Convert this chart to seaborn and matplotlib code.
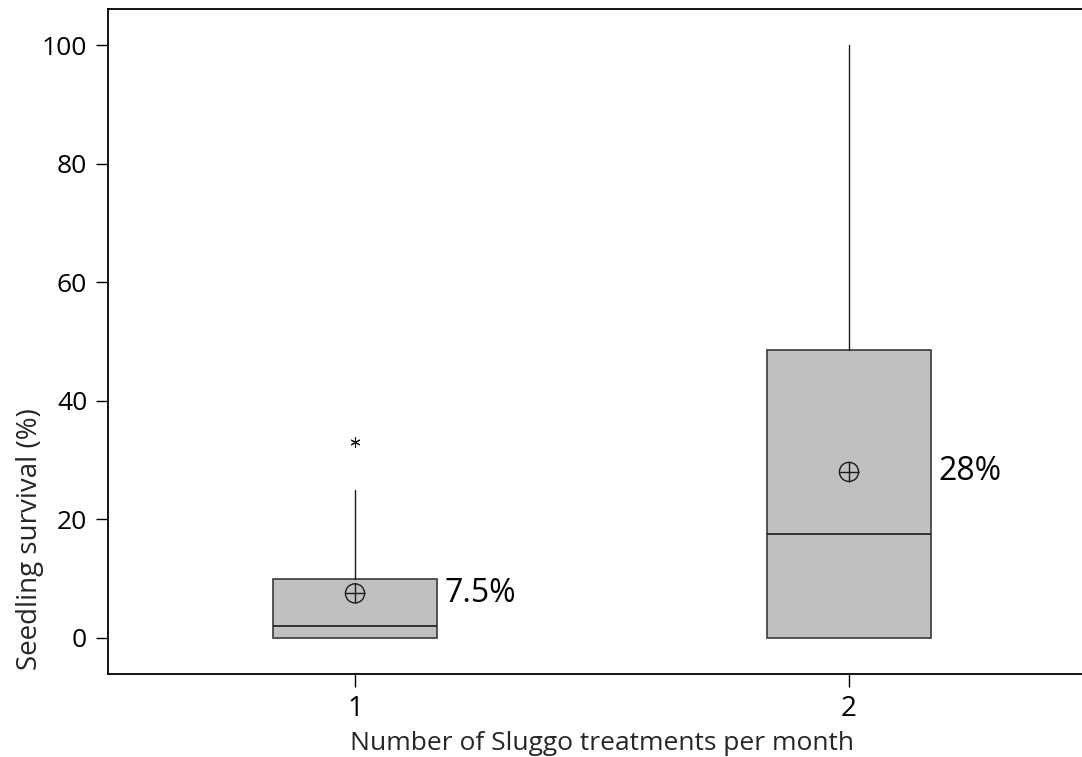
import matplotlib
matplotlib.use("Agg")
import matplotlib.pyplot as plt
import seaborn as sns
import pandas as pd

# Box statistics for seedling survival (%) by treatment frequency
groups = ["1", "2"]
positions = [1, 2]
q1 = [0.0, 0.0]
medians = [2.0, 17.5]
q3 = [10.0, 48.5]
whisker_low = [0.0, 0.0]
whisker_high = [25.0, 100.0]
means = [7.5, 28.0]
mean_labels = ["7.5%", "28%"]
outlier_group = [1]
outlier_values = [33.0]

sns.set_theme(style="ticks")
plt.rcParams["font.family"] = ["Open Sans", "DejaVu Sans"]

fig = plt.figure(figsize=(10.82, 7.57), dpi=100)
ax = fig.add_axes([108 / 1082, 83 / 757, (1096 - 108) / 1082, (674 - 9) / 757])

stats = []
for i, g in enumerate(groups):
    stats.append(dict(label=g, q1=q1[i], med=medians[i], q3=q3[i],
                      whislo=whisker_low[i], whishi=whisker_high[i],
                      mean=means[i], fliers=[]))

ax.bxp(stats, positions=positions, widths=0.333, patch_artist=True,
       showcaps=False, showfliers=False, showmeans=False,
       boxprops=dict(facecolor="#c0c0c0", edgecolor="#3a3a3a", linewidth=1.2),
       medianprops=dict(color="#1a1a1a", linewidth=1.2),
       whiskerprops=dict(color="#1a1a1a", linewidth=1.0))

mean_df = pd.DataFrame({"pos": positions, "mean": means})
sns.scatterplot(data=mean_df, x="pos", y="mean", marker="o", s=190,
                facecolor="none", edgecolor="#1a1a1a", linewidth=1.0,
                ax=ax, zorder=5)
sns.scatterplot(data=mean_df, x="pos", y="mean", marker="+", s=190,
                color="#1a1a1a", linewidth=1.0, ax=ax, zorder=5)

out_df = pd.DataFrame({"pos": outlier_group, "val": outlier_values})
sns.scatterplot(data=out_df, x="pos", y="val", marker=(6, 2, 0), s=45,
                color="#1a1a1a", linewidth=0.8, ax=ax, zorder=5)

for p, m, lab in zip(positions, means, mean_labels):
    ax.annotate(lab, xy=(p + 0.1665, m), xytext=(5, 0),
                textcoords="offset points", ha="left", va="center",
                fontsize=23, color="black")

ax.set_xlim(0.5, 2.5)
ax.set_ylim(-6.1, 106.1)
ax.set_xticks(positions)
ax.set_xticklabels(groups)
ax.set_yticks([0, 20, 40, 60, 80, 100])
ax.tick_params(axis="both", direction="out", length=9, width=1.0,
               labelsize=19, colors="black", pad=6)
ax.tick_params(axis="x", labelsize=20)
ax.set_xlabel("Number of Sluggo treatments per month", fontsize=19, labelpad=6)
ax.set_ylabel("Seedling survival (%)", fontsize=20)
ax.yaxis.set_label_coords(-0.065, 0.203)
for side in ["left", "bottom", "top", "right"]:
    ax.spines[side].set_visible(True)
    ax.spines[side].set_color("black")
    ax.spines[side].set_linewidth(1.3)

fig.savefig("out.png", dpi=100)
